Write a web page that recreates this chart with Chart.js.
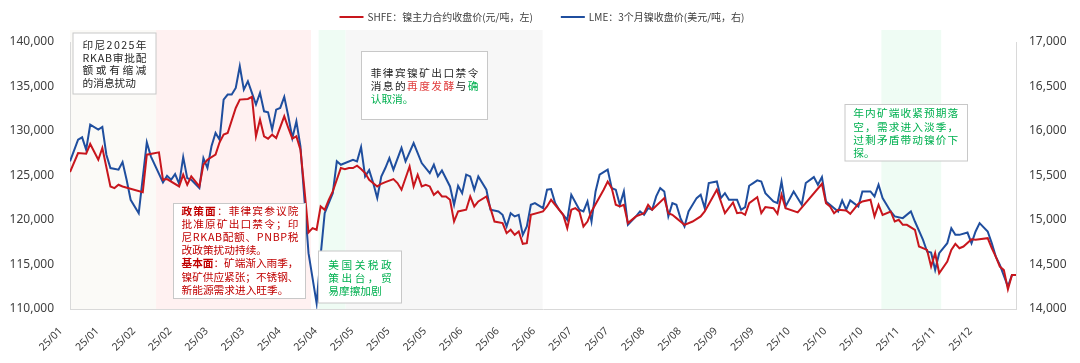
<!DOCTYPE html>
<html>
<head>
<meta charset="utf-8">
<script src="https://cdn.jsdelivr.net/npm/chart.js@4.4.1/dist/chart.umd.min.js"></script>
<style>
  html, body { margin: 0; padding: 0; background: #fff; }
</style>
</head>
<body>
<canvas id="chart" width="1080" height="363"></canvas>
<script>
// x axis: trading-day index, one label every 9 days
const tickLabels = ['25/01', '25/01', '25/02', '25/02', '25/03', '25/03', '25/04', '25/04', '25/05', '25/05',
  '25/05', '25/06', '25/06', '25/06', '25/07', '25/07', '25/08', '25/08', '25/09', '25/09',
  '25/10', '25/10', '25/10', '25/11', '25/11', '25/12'];

// SHFE nickel main contract close, CNY/t
const shfeDay = [0, 2, 4, 5, 7, 8, 10, 11, 12, 13, 18, 19, 22, 23, 24, 27, 28, 29, 30, 32,
  33, 34, 36, 37, 38, 39, 41, 42, 44, 45, 46, 47, 48, 49, 50, 51, 53, 54, 55, 56,
  57, 58, 59, 60, 61, 62, 63, 64, 65, 67, 68, 69, 70, 71, 72, 73, 74, 76, 77, 78,
  80, 81, 82, 84, 85, 86, 87, 88, 89, 90, 91, 92, 93, 94, 95, 96, 98, 99, 100, 101,
  103, 104, 105, 107, 108, 109, 110, 111, 112, 113, 114, 117, 118, 119, 122, 123, 124, 125, 126, 127,
  128, 129, 132, 133, 134, 135, 136, 137, 138, 140, 142, 143, 144, 147, 148, 149, 150, 151, 152, 154,
  156, 157, 160, 161, 162, 164, 165, 166, 167, 168, 170, 171, 172, 174, 175, 176, 177, 180, 186, 187,
  188, 189, 190, 192, 193, 195, 196, 198, 199, 200, 201, 203, 204, 205, 206, 207, 209, 210, 212, 213,
  214, 215, 217, 218, 219, 220, 221, 223, 224, 227, 228, 229, 230, 231, 232, 233, 234];
const shfeClose = [125390, 127520, 127450, 128540, 126770, 128090, 123770, 123580, 123960, 123770, 123130, 127340, 127600, 124520, 124600, 123770, 125090, 123960, 124900, 123770,
  126210, 126770, 127340, 128730, 129590, 129780, 132590, 133530, 133600, 133830, 129400, 131280, 129400, 129140, 129590, 129210, 131650, 130340, 129140, 129400,
  127900, 123400, 118590, 119080, 118900, 121520, 121150, 122270, 123210, 125840, 125720, 125840, 125840, 126100, 125720, 125270, 124520, 123770, 124070, 124260,
  124600, 124150, 123400, 126020, 123770, 125090, 123770, 123960, 123770, 122830, 123210, 122650, 122650, 122270, 119830, 120960, 121150, 122650, 121520, 122080,
  122650, 121330, 119830, 119650, 118520, 118900, 118330, 118710, 117320, 117390, 120580, 120960, 121520, 122270, 120580, 119080, 121150, 121330, 120960, 119270,
  119830, 120960, 123400, 124330, 123580, 121710, 121520, 121710, 119650, 120400, 120770, 121710, 121150, 122460, 120770, 120580, 120210, 119830, 119460, 119830,
  120400, 120960, 123400, 122080, 120770, 121970, 120770, 120850, 120580, 121900, 122570, 120770, 121450, 121330, 120700, 122830, 121330, 120850, 124070, 121900,
  121520, 120770, 121150, 121070, 120700, 121820, 122080, 122270, 120400, 121710, 120580, 120960, 119830, 120020, 119460, 119460, 118900, 117020, 116640, 114770,
  116270, 114020, 115330, 116640, 117320, 116830, 117020, 117840, 117770, 117960, 116830, 115890, 114770, 114390, 112220, 113830, 113830];

// LME 3-month nickel close, USD/t
const lmeDay = [0, 2, 3, 4, 5, 7, 8, 9, 10, 12, 13, 14, 15, 17, 19, 20, 23, 24, 25, 26,
  27, 28, 29, 30, 32, 33, 34, 35, 36, 37, 38, 39, 40, 41, 42, 43, 44, 45, 46, 47,
  48, 49, 50, 51, 52, 53, 54, 55, 56, 57, 58, 59, 61, 62, 63, 64, 65, 66, 67, 70,
  71, 72, 73, 74, 75, 76, 77, 78, 79, 80, 82, 83, 85, 87, 89, 90, 91, 92, 94, 95,
  96, 97, 98, 99, 100, 101, 103, 104, 106, 107, 108, 109, 110, 111, 112, 113, 114, 115, 117, 118,
  119, 120, 121, 123, 124, 126, 127, 128, 129, 130, 131, 133, 134, 135, 136, 137, 138, 140, 141, 142,
  143, 144, 145, 146, 147, 148, 149, 150, 151, 152, 153, 155, 156, 157, 158, 160, 161, 162, 163, 165,
  166, 167, 168, 169, 170, 171, 172, 174, 175, 176, 177, 179, 181, 182, 184, 185, 186, 187, 188, 190,
  191, 192, 193, 195, 196, 198, 199, 200, 201, 203, 204, 206, 208, 209, 211, 212, 213, 214, 215, 217,
  218, 219, 220, 222, 223, 224, 225, 227, 228, 229, 230, 232, 233, 234];
const lmeClose = [15659, 15903, 15929, 15790, 16071, 16015, 16045, 15734, 15584, 15565, 15651, 15452, 15227, 15077, 15873, 15715, 15422, 15497, 15452, 15516,
  15407, 15707, 15471, 15452, 15358, 15696, 15584, 15828, 15978, 15903, 16353, 16409, 16409, 16484, 16728, 16465, 16559, 16428, 16297, 16428,
  16221, 16210, 16015, 16240, 16259, 16383, 16165, 15921, 16109, 15828, 15227, 14627, 14064, 14602, 15077, 15190, 15302, 15660, 15621, 15677,
  15659, 15820, 15490, 15560, 15415, 15246, 15489, 15584, 15696, 15565, 15809, 15659, 15865, 15640, 15527, 15621, 15490, 15557, 15377, 15171,
  15385, 15302, 15509, 15490, 15340, 15490, 15340, 15115, 15096, 15058, 14927, 15077, 15040, 15058, 14833, 14927, 15171, 15190, 15133, 15340,
  15347, 15190, 15115, 15002, 15283, 15115, 15096, 15208, 14983, 15321, 15509, 15565, 15358, 15340, 15171, 15321, 14946, 15040, 15096, 15058,
  15133, 15115, 15265, 15358, 15321, 15040, 15190, 15171, 15021, 14927, 15096, 15246, 15283, 15133, 15415, 15433, 15246, 15302, 15227, 15227,
  15115, 15145, 15385, 15415, 15445, 15433, 15302, 15208, 15190, 15433, 15152, 15321, 15171, 15415, 15482, 15396, 15482, 15208, 15171, 15096,
  15220, 15115, 15220, 15152, 15321, 15321, 15265, 15396, 15246, 15096, 15040, 15021, 15096, 14983, 14777, 14646, 14634, 14439, 14627, 14739,
  14908, 14833, 14833, 14859, 14739, 14871, 14965, 14871, 14740, 14589, 14496, 14252, 14383, 14383];

const RED = '#C8161D';
const BLUE = '#1F4E9E';
const CN_FONT = '"Noto Sans CJK SC", "Noto Sans", sans-serif';

// shaded event windows, in trading-day index
const bands = [
  { from: 0, to: 21.3, color: '#FBFAF7' },
  { from: 21.3, to: 59.6, color: '#FFF1F1' },
  { from: 61.5, to: 68.2, color: '#EFFCF4' },
  { from: 68.2, to: 116.9, color: '#F7F7F7' },
  { from: 200.7, to: 215.5, color: '#EFFCF4' }
];

// text boxes (pixel layout); each line is a list of [text, color, bold]
const DARK = '#262626', DRED = '#C00000', LRED = '#E03C3C', GREEN = '#00B050';
const notes = [
  { x: 73, y: 33, w: 83, h: 61, tx: 82.5, tw: 64, ty: 45, lh: 12.7, lines: [
    { segs: [['印尼2025年', DARK]], justify: true },
    { segs: [['RKAB审批配', DARK]], justify: true },
    { segs: [['额或有缩减', DARK]], justify: true },
    { segs: [['的消息扰动', DARK]] }
  ] },
  { x: 173.5, y: 203.5, w: 132, h: 95, tx: 181.5, tw: 117, ty: 211, lh: 13.1, lines: [
    { segs: [['政策面', DRED, true], ['：菲律宾参议院', DRED]], justify: true },
    { segs: [['批准原矿出口禁令；印', DRED]], justify: true },
    { segs: [['尼RKAB配额、PNBP税', DRED]], justify: true },
    { segs: [['改政策扰动持续。', DRED]] },
    { segs: [['基本面', DRED, true], ['：矿端渐入雨季，', DRED]], justify: true },
    { segs: [['镍矿供应紧张；不锈钢、', DRED]], justify: true },
    { segs: [['新能源需求进入旺季。', DRED]] }
  ] },
  { x: 318.5, y: 251, w: 83, h: 52, tx: 328.3, tw: 63.4, ty: 265, lh: 12.85, lines: [
    { segs: [['美国关税政', GREEN]], justify: true },
    { segs: [['策出台，贸', GREEN]], justify: true },
    { segs: [['易摩擦加剧', GREEN]] }
  ] },
  { x: 361.5, y: 51.5, w: 126, h: 68, tx: 370.7, tw: 107.7, ty: 72.7, lh: 13.3, lines: [
    { segs: [['菲律宾镍矿出口禁令', DARK]], justify: true },
    { segs: [['消息的', DARK], ['再度发酵', LRED], ['与', DARK], ['确', GREEN]], justify: true },
    { segs: [['认取消。', GREEN]] }
  ] },
  { x: 845, y: 104.5, w: 122.5, h: 56.5, tx: 853.3, tw: 105, ty: 113.3, lh: 13.3, lines: [
    { segs: [['年内矿端收紧预期落', GREEN]], justify: true },
    { segs: [['空，需求进入淡季，', GREEN]], justify: true },
    { segs: [['过剩矛盾带动镍价下', GREEN]], justify: true },
    { segs: [['探。', GREEN]] }
  ] }
];

const NOTE_SIZE = 10.7;

function drawNoteLine(ctx, line, x, y, width) {
  const chars = [];
  line.segs.forEach(([t, c, b]) => {
    for (const ch of t) chars.push({ ch, c, b });
  });
  let total = 0;
  chars.forEach(o => {
    ctx.font = (o.b ? 'bold ' : '') + NOTE_SIZE + 'px ' + CN_FONT;
    o.w = ctx.measureText(o.ch).width;
    total += o.w;
  });
  const gap = line.justify && chars.length > 1 ? (width - total) / (chars.length - 1) : 0;
  let cx = x;
  chars.forEach(o => {
    ctx.font = (o.b ? 'bold ' : '') + NOTE_SIZE + 'px ' + CN_FONT;
    ctx.fillStyle = o.c;
    ctx.fillText(o.ch, cx, y);
    cx += o.w + gap;
  });
}

const backdrop = {
  id: 'backdrop',
  beforeDraw(chart) {
    const { ctx, chartArea, scales: { x } } = chart;
    ctx.save();
    bands.forEach(b => {
      const x0 = x.getPixelForValue(b.from);
      const x1 = x.getPixelForValue(b.to);
      ctx.fillStyle = b.color;
      ctx.fillRect(x0, chartArea.top - 12, x1 - x0, chartArea.bottom - chartArea.top + 12);
    });
    ctx.restore();
  }
};

const noteBoxes = {
  id: 'noteBoxes',
  afterDatasetsDraw(chart) {
    const ctx = chart.ctx;
    ctx.save();
    notes.forEach(n => {
      ctx.fillStyle = '#FFFFFF';
      ctx.fillRect(n.x, n.y, n.w, n.h);
      ctx.strokeStyle = '#C8C8C8';
      ctx.lineWidth = 1;
      ctx.strokeRect(n.x, n.y, n.w, n.h);
      ctx.textBaseline = 'middle';
      ctx.textAlign = 'left';
      n.lines.forEach((line, i) => drawNoteLine(ctx, line, n.tx, n.ty + i * n.lh, n.tw));
    });
    ctx.restore();
  }
};

// legend drawn from the datasets, laid out like the original
const topLegend = {
  id: 'topLegend',
  afterDraw(chart) {
    const ctx = chart.ctx;
    const ds = chart.data.datasets;
    ctx.save();
    ctx.font = '10px ' + CN_FONT;
    ctx.textBaseline = 'middle';
    ctx.textAlign = 'left';
    const sample = 24, gapText = 4, gapItem = 28, y = 17;
    const widths = ds.map(d => sample + gapText + ctx.measureText(d.label).width);
    const total = widths.reduce((a, b) => a + b, 0) + gapItem * (ds.length - 1);
    let x = 542 - total / 2;
    ds.forEach((d, i) => {
      ctx.strokeStyle = d.borderColor;
      ctx.lineWidth = 2;
      ctx.beginPath();
      ctx.moveTo(x, y);
      ctx.lineTo(x + sample, y);
      ctx.stroke();
      ctx.fillStyle = '#404040';
      ctx.fillText(d.label, x + sample + gapText, y);
      x += widths[i] + gapItem;
    });
    ctx.restore();
  }
};

const axisFont = { family: '"Noto Sans", "Open Sans", sans-serif', size: 12 };
const fmt = v => Number(v).toLocaleString('en-US');

new Chart(document.getElementById('chart'), {
  type: 'line',
  data: {
    datasets: [{
      label: 'SHFE：镍主力合约收盘价(元/吨，左)',
      data: shfeDay.map((d, i) => ({ x: d, y: shfeClose[i] })),
      borderColor: RED,
      backgroundColor: RED,
      borderWidth: 2,
      pointRadius: 0,
      tension: 0,
      yAxisID: 'y'
    }, {
      label: 'LME：3个月镍收盘价(美元/吨，右)',
      data: lmeDay.map((d, i) => ({ x: d, y: lmeClose[i] })),
      borderColor: BLUE,
      backgroundColor: BLUE,
      borderWidth: 2,
      pointRadius: 0,
      tension: 0,
      yAxisID: 'y1'
    }]
  },
  options: {
    responsive: false,
    animation: false,
    devicePixelRatio: 1,
    layout: { padding: { top: 42, left: 0, right: 0, bottom: 0 } },
    plugins: {
      legend: { display: false },
      tooltip: { enabled: false }
    },
    scales: {
      x: {
        type: 'linear',
        min: 0,
        max: 234,
        grid: { display: false, drawTicks: false },
        border: { display: true, color: '#D9D9D9', width: 1 },
        afterFit: s => { s.height = 54; },
        ticks: {
          stepSize: 9,
          autoSkip: false,
          minRotation: 45,
          maxRotation: 45,
          padding: 16,
          labelOffset: -9,
          color: '#404040',
          font: { family: axisFont.family, size: 10.5 },
          callback: v => (v % 9 === 0 && tickLabels[v / 9]) || ''
        }
      },
      y: {
        position: 'left',
        min: 110000,
        max: 140000,
        grid: { display: false, drawTicks: false },
        border: { display: true, color: '#D9D9D9', width: 1 },
        afterFit: s => { s.width = 70; },
        ticks: { stepSize: 5000, padding: 16, color: '#404040', font: axisFont, callback: fmt }
      },
      y1: {
        position: 'right',
        min: 14000,
        max: 17000,
        grid: { display: false, drawTicks: false },
        border: { display: true, color: '#D9D9D9', width: 1 },
        afterFit: s => { s.width = 64; },
        ticks: { stepSize: 500, padding: 13, color: '#404040', font: axisFont, callback: fmt }
      }
    }
  },
  plugins: [backdrop, noteBoxes, topLegend]
});
</script>
</body>
</html>
